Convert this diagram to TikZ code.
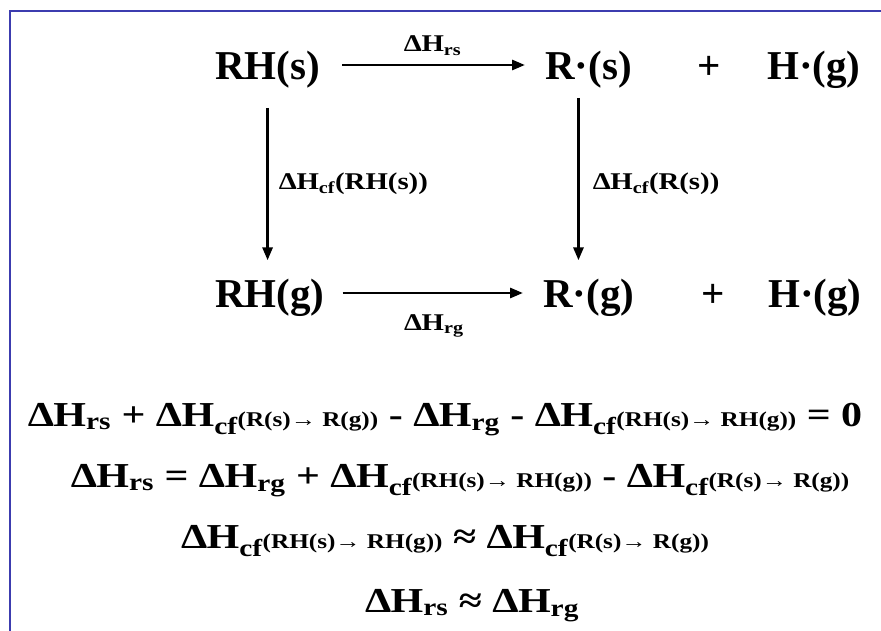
\documentclass[tikz,border=0pt]{standalone}
\usepackage{fontspec}
\setmainfont{Liberation Serif}
\newfontfamily\widefont{Liberation Serif}[FakeStretch=1.2]
\usepackage{tikz}
\usetikzlibrary{positioning, arrows.meta, calc}
\definecolor{frameblue}{RGB}{60,60,175}

\newcommand{\dH}[1]{Δ\kern-0.02em H\textsubscript{#1}}
\newcommand{\smtxt}[1]{{\fontsize{21}{21}\selectfont #1}}

\begin{document}
\begin{tikzpicture}[
    x=1pt, y=-1pt,
    species/.style={font=\bfseries\fontsize{41}{48}\selectfont, inner sep=0pt, anchor=base west},
    lbl/.style={font=\widefont\bfseries\fontsize{24}{28}\selectfont, inner sep=0pt},
    eqn/.style={font=\widefont\bfseries\fontsize{35}{40}\selectfont, inner sep=0pt, anchor=base},
    rxn/.style={-{Triangle[length=13pt,width=10pt]}, line width=2.8pt}
]
    \path[use as bounding box] (0,0) rectangle (881,631);
    \draw[frameblue, line width=2.5pt] (10,11) rectangle (905,660);

    % solid phase
    \node[species] (rhs) at (215,80) {RH(s)};
    \node[species] (rs) at (545,80) {R·(s)};
    \node[species, anchor=base] (plus1) at (709,80) {+};
    \node[species] (hg1) at (767,80) {H·(g)};
    % gas phase
    \node[species] (rhg) at (215,307) {RH(g)};
    \node[species] (rg) at (543,307) {R·(g)};
    \node[species, anchor=base] (plus2) at (713,307) {+};
    \node[species] (hg2) at (768,307) {H·(g)};

    \draw[rxn, shorten <=22pt, shorten >=20pt] ([yshift=15pt]rhs.base east) -- ([yshift=15pt]rs.base west)
        node[lbl, midway, above=8pt] (hrs) {\dH{rs}};
    \draw[rxn, shorten <=18pt, shorten >=20pt] ([yshift=14pt]rhg.base east) -- ([yshift=14pt]rg.base west)
        node[lbl, midway, below=20pt] (hrg) {\dH{rg}};
    \draw[rxn, shorten <=19pt, shorten >=18pt] (rhs.south) -- (rhs.south |- rhg.north)
        node[lbl, midway, right=10pt] (hcf1) {\dH{cf}(RH(s))};
    \draw[rxn, shorten <=9pt, shorten >=18pt] ([xshift=-10pt]rs.south) -- ([xshift=-10pt]rs.south |- rg.north)
        node[lbl, midway, right=13pt] (hcf2) {\dH{cf}(R(s))};

    % cycle equations
    \node[eqn] (eq1) at (445,426) {\dH{rs} + \dH{cf}\smtxt{(R(s)→ R(g))} - \dH{rg} - \dH{cf}\smtxt{(RH(s)→ RH(g))} = 0};
    \node[eqn] (eq2) at (460,487) {\dH{rs} = \dH{rg} + \dH{cf}\smtxt{(RH(s)→ RH(g))} - \dH{cf}\smtxt{(R(s)→ R(g))}};
    \node[eqn] (eq3) at (445,548) {\dH{cf}\smtxt{(RH(s)→ RH(g))} ≈ \dH{cf}\smtxt{(R(s)→ R(g))}};
    \node[eqn] (eq4) at (472,612) {\dH{rs} ≈ \dH{rg}};
\end{tikzpicture}
\end{document}
